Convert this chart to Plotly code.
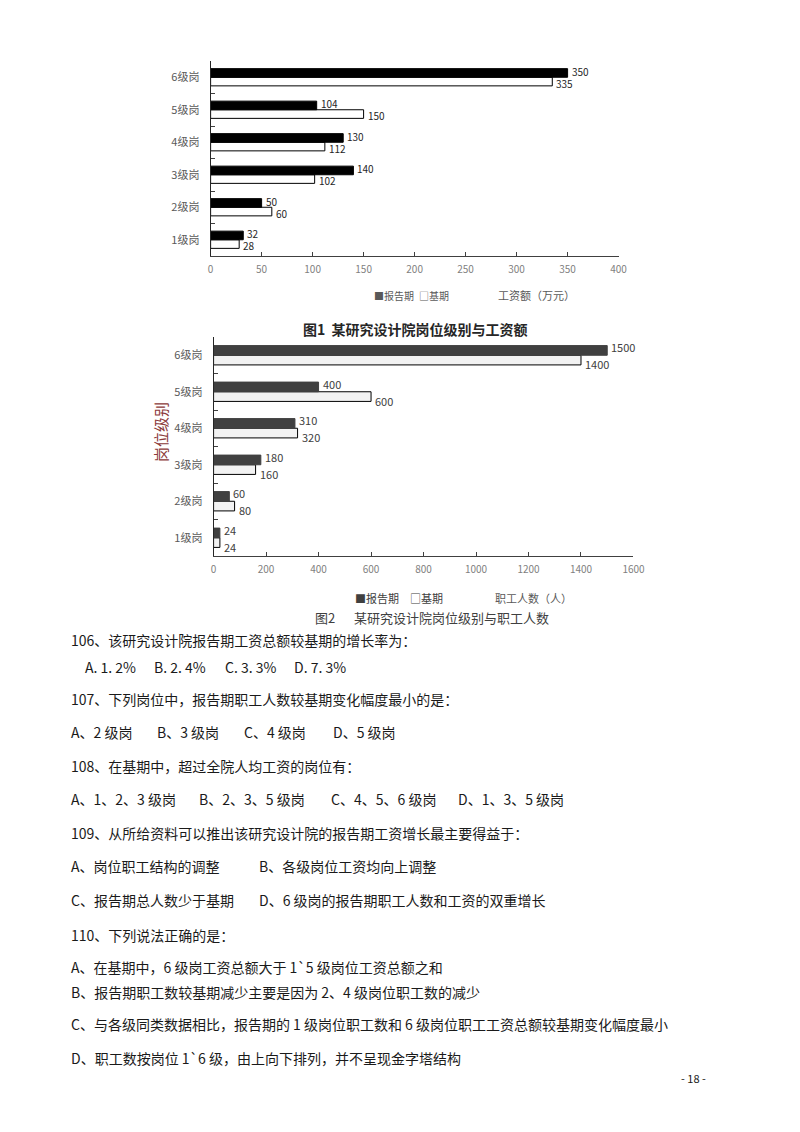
#!/usr/bin/env python3
# -*- coding: utf-8 -*-

import plotly.graph_objects as go

# the page body has an 8px margin, so the figure is a bit smaller than the window
OFF = 8
W, H = 800 - 2 * OFF, 1132 - 2 * OFF
KX = 1.012  # small horizontal correction seen in the rendered page
FONT = "Noto Sans CJK SC"

# ---- data ----
levels = ["1级岗", "2级岗", "3级岗", "4级岗", "5级岗", "6级岗"]
wage_report = [32, 50, 140, 130, 104, 350]    # 工资额（万元）报告期
wage_base = [28, 60, 102, 112, 150, 335]      # 工资额（万元）基期
staff_report = [24, 60, 180, 310, 400, 1500]  # 职工人数（人）报告期
staff_base = [24, 80, 160, 320, 600, 1400]    # 职工人数（人）基期

# question text: (text, x px, y px) in page pixels
questions = [
    ("106、该研究设计院报告期工资总额较基期的增长率为：", 66, 640),
    ("A. 1. 2%", 80, 667), ("B. 2. 4%", 150, 667),
    ("C. 3. 3%", 221, 667), ("D. 7. 3%", 291, 667),
    ("107、下列岗位中，报告期职工人数较基期变化幅度最小的是：", 66, 699),
    ("A、2 级岗", 66, 732), ("B、3 级岗", 153, 732),
    ("C、4 级岗", 241, 732), ("D、5 级岗", 330, 732),
    ("108、在基期中，超过全院人均工资的岗位有：", 66, 766),
    ("A、1、2、3 级岗", 66, 799), ("B、2、3、5 级岗", 195, 799),
    ("C、4、5、6 级岗", 328, 799), ("D、1、3、5 级岗", 456, 799),
    ("109、从所给资料可以推出该研究设计院的报告期工资增长最主要得益于：", 66, 833),
    ("A、岗位职工结构的调整", 66, 866), ("B、各级岗位工资均向上调整", 256, 866),
    ("C、报告期总人数少于基期", 66, 900), ("D、6 级岗的报告期职工人数和工资的双重增长", 256, 900),
    ("110、下列说法正确的是：", 66, 935),
    ("A、在基期中，6 级岗工资总额大于 1`5 级岗位工资总额之和", 66, 967),
    ("B、报告期职工数较基期减少主要是因为 2、4 级岗位职工数的减少", 66, 992),
    ("C、与各级同类数据相比，报告期的 1 级岗位职工数和 6 级岗位职工工资总额较基期变化幅度最小", 66, 1024),
    ("D、职工数按岗位 1`6 级，由上向下排列，并不呈现金字塔结构", 66, 1058),
]


def px(x):
    return (x * KX - OFF) / W


def py(y):
    return 1 - (y - OFF) / H


fig = go.Figure()

# chart 1: 基期 first so that it sits below 报告期 in each group
fig.add_trace(go.Bar(
    y=levels, x=wage_base, orientation="h", name="基期",
    marker=dict(color="#ffffff", line=dict(color="#000000", width=1)),
    xaxis="x", yaxis="y", showlegend=False,
))
fig.add_trace(go.Bar(
    y=levels, x=wage_report, orientation="h", name="报告期",
    marker=dict(color="#000000", line=dict(color="#000000", width=1)),
    xaxis="x", yaxis="y", showlegend=False,
))

# chart 2
fig.add_trace(go.Bar(
    y=levels, x=staff_base, orientation="h", name="基期",
    marker=dict(color="#f2f2f2", line=dict(color="#000000", width=1)),
    xaxis="x2", yaxis="y2", showlegend=False,
))
fig.add_trace(go.Bar(
    y=levels, x=staff_report, orientation="h", name="报告期",
    marker=dict(color="#404040", line=dict(color="#404040", width=1)),
    xaxis="x2", yaxis="y2", showlegend=False,
))

x_common = dict(showgrid=False, zeroline=False, showline=True, linecolor="#404040",
                linewidth=1, ticks="inside", ticklen=4, tickcolor="#404040",
                tickfont=dict(size=10, color="#7f7f7f"), ticklabelstandoff=4)
y_common = dict(type="category", categoryorder="array", categoryarray=levels,
                showgrid=False, zeroline=False, showline=True, linecolor="#262626",
                linewidth=1, ticks="inside", ticklen=4, tickcolor="#404040",
                tickson="boundaries", tickfont=dict(size=11, color="#595959"),
                ticklabelstandoff=8)

annotations = []


def note(text, x, y, size=14, color="#1a1a1a", xanchor="left", **kw):
    annotations.append(dict(text=text, x=px(x), y=py(y), xref="paper", yref="paper",
                            xanchor=xanchor, yanchor="middle", showarrow=False,
                            font=dict(family=FONT, size=size, color=color), **kw))


def value_labels(values, xref, yref, shift, size, color):
    # value labels at the bar ends, nudged above/below the category centre
    for lv, v in zip(levels, values):
        annotations.append(dict(text=str(v), x=v, y=lv, xref=xref, yref=yref,
                                xanchor="left", yanchor="middle", xshift=3, yshift=shift,
                                showarrow=False, borderpad=0,
                                font=dict(family=FONT, size=size, color=color)))


value_labels(wage_report, "x", "y", 6, 10, "#262626")
value_labels(wage_base, "x", "y", -6, 10, "#262626")
value_labels(staff_report, "x2", "y2", 8, 11, "#404040")
value_labels(staff_base, "x2", "y2", -9, 11, "#404040")

# chart 1 legend, axis title, caption
note("■报告期", 372, 295, size=10, color="#595959")
note("□基期", 417, 295, size=10, color="#595959")
note("工资额（万元）", 497, 295, size=11, color="#595959")
note("<b>图1  某研究设计院岗位级别与工资额</b>", 415, 329, size=14, color="#262626",
     xanchor="center")

# chart 2 legend, axis titles, caption
note("■报告期", 352, 598, size=11, color="#404040")
note("□基期", 408, 598, size=11, color="#404040")
note("职工人数（人）", 493, 598, size=11, color="#595959")
note("岗位级别", 158, 432, size=15, color="#8b3a3a", xanchor="center", textangle=-90)
note("图2", 312, 617, size=13, color="#404040")
note("某研究设计院岗位级别与职工人数", 351, 617, size=13, color="#404040")

for t, x, y in questions:
    note(t, x, y)

note("- 18 -", 695, 1078, size=11, color="#1a1a1a", xanchor="center")

fig.update_layout(
    width=W, height=H,
    margin=dict(l=0, r=0, t=0, b=0),
    paper_bgcolor="#ffffff", plot_bgcolor="#ffffff",
    font=dict(family=FONT),
    barmode="group", bargap=0.47, bargroupgap=0,
    xaxis=dict(domain=[px(209), px(620)], anchor="y", range=[0, 400], dtick=50, **x_common),
    yaxis=dict(domain=[py(256), py(61)], anchor="x", **y_common),
    xaxis2=dict(domain=[px(212), px(635)], anchor="y2", range=[0, 1600], dtick=200, **x_common),
    yaxis2=dict(domain=[py(556), py(337)], anchor="x2", **y_common),
    annotations=annotations,
)

fig.write_html("out.html")
